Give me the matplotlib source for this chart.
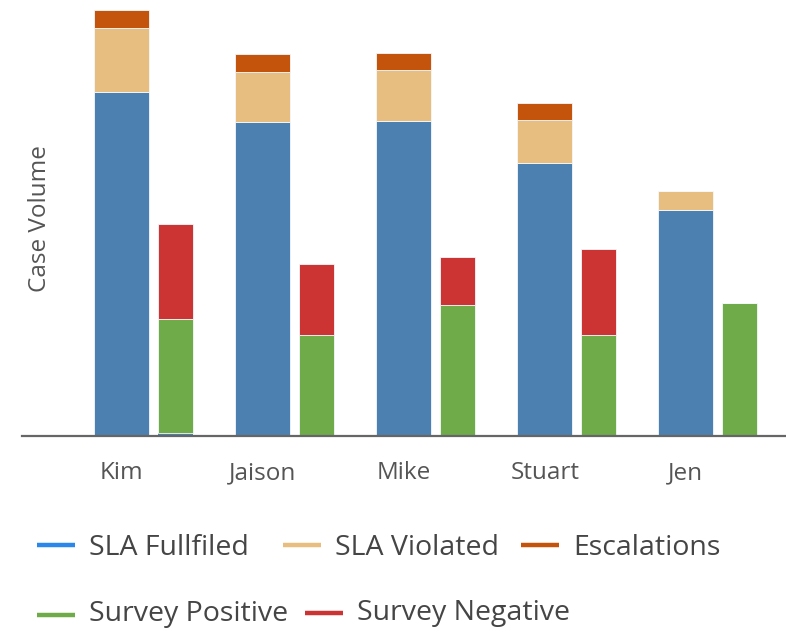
import numpy as np
import matplotlib.pyplot as plt
from matplotlib.lines import Line2D

plt.rcParams['font.family'] = ['Open Sans', 'DejaVu Sans']

# case volumes per agent
agents = ["Kim", "Jaison", "Mike", "Stuart", "Jen"]
sla_fulfilled = [86, 78.5, 78.8, 68.3, 56.4]
sla_violated = [16, 12.6, 12.6, 10.7, 4.75]
escalations = [4.4, 4.35, 4.4, 4.25, 0]
survey_base = [0.7, 0, 0, 0, 0]          # thin fulfilled sliver under Kim's survey bar
survey_positive = [28.6, 25.3, 32.8, 25.3, 33.2]
survey_negative = [23.6, 17.75, 11.85, 21.35, 0]

C_BLUE = "#4c80b0"
C_TAN = "#e8be80"
C_ORANGE = "#c4530c"
C_GREEN = "#70ab4a"
C_RED = "#cc3434"

W, H = 786, 631
fig = plt.figure(figsize=(W / 100, H / 100), dpi=100)
ax = fig.add_axes([22 / W, 1 - 436 / H, (786 - 22) / W, 436 / H])

x = np.arange(len(agents))
xl = x - 0.2
xr = x + 0.18
bw_l, bw_r = 0.39, 0.25
edge = dict(edgecolor="#f4f8fc", linewidth=0.6)

f = np.array(sla_fulfilled)
v = np.array(sla_violated)
e = np.array(escalations)
ax.bar(xl, f, bw_l, color=C_BLUE, **edge)
ax.bar(xl, v, bw_l, bottom=f, color=C_TAN, **edge)
ax.bar(xl, e, bw_l, bottom=f + v, color=C_ORANGE, **edge)

sb = np.array(survey_base)
sp = np.array(survey_positive)
sn = np.array(survey_negative)
ax.bar(xr, sb, bw_r, color=C_BLUE, linewidth=0)
ax.bar(xr, sp, bw_r, bottom=sb, color=C_GREEN, **edge)
ax.bar(xr, sn, bw_r, bottom=sb + sp, color=C_RED, **edge)

ax.set_xlim(-0.908, 4.51)
ax.set_ylim(0, 109)
for s in ["top", "right", "left"]:
    ax.spines[s].set_visible(False)
ax.spines["bottom"].set_color("#666666")
ax.spines["bottom"].set_linewidth(1.6)
ax.set_yticks([])
ax.set_xticks(xl)
ax.set_xticklabels(agents, fontsize=17.5, color="#555555")
ax.tick_params(axis="x", length=0, pad=18)

fig.text(40 / W, 1 - 219 / H, "Case Volume", rotation=90, fontsize=17.5,
         color="#555555", ha="center", va="center")

# legend drawn by hand in pixel positions
def px(xp, yp):
    return xp / W, 1 - yp / H

legend_items = [
    (37, 545, 555, "SLA Fullfiled", "#2b87e9"),
    (283, 545, 555, "SLA Violated", C_TAN),
    (521, 545, 555, "Escalations", C_ORANGE),
    (37, 615, 621, "Survey Positive", C_GREEN),
    (305, 613, 620, "Survey Negative", C_RED),
]
for x0, ym, yb, label, col in legend_items:
    (a0, b0), (a1, _) = px(x0, ym), px(x0 + 38, ym)
    fig.add_artist(Line2D([a0, a1], [b0, b0], color=col, lw=3.2,
                          solid_capstyle="butt", transform=fig.transFigure))
    tx, ty = px(x0 + 52, yb)
    fig.text(tx, ty, label, fontsize=20.5, color="#454545", ha="left", va="baseline")

fig.savefig("out.png", dpi=100)
